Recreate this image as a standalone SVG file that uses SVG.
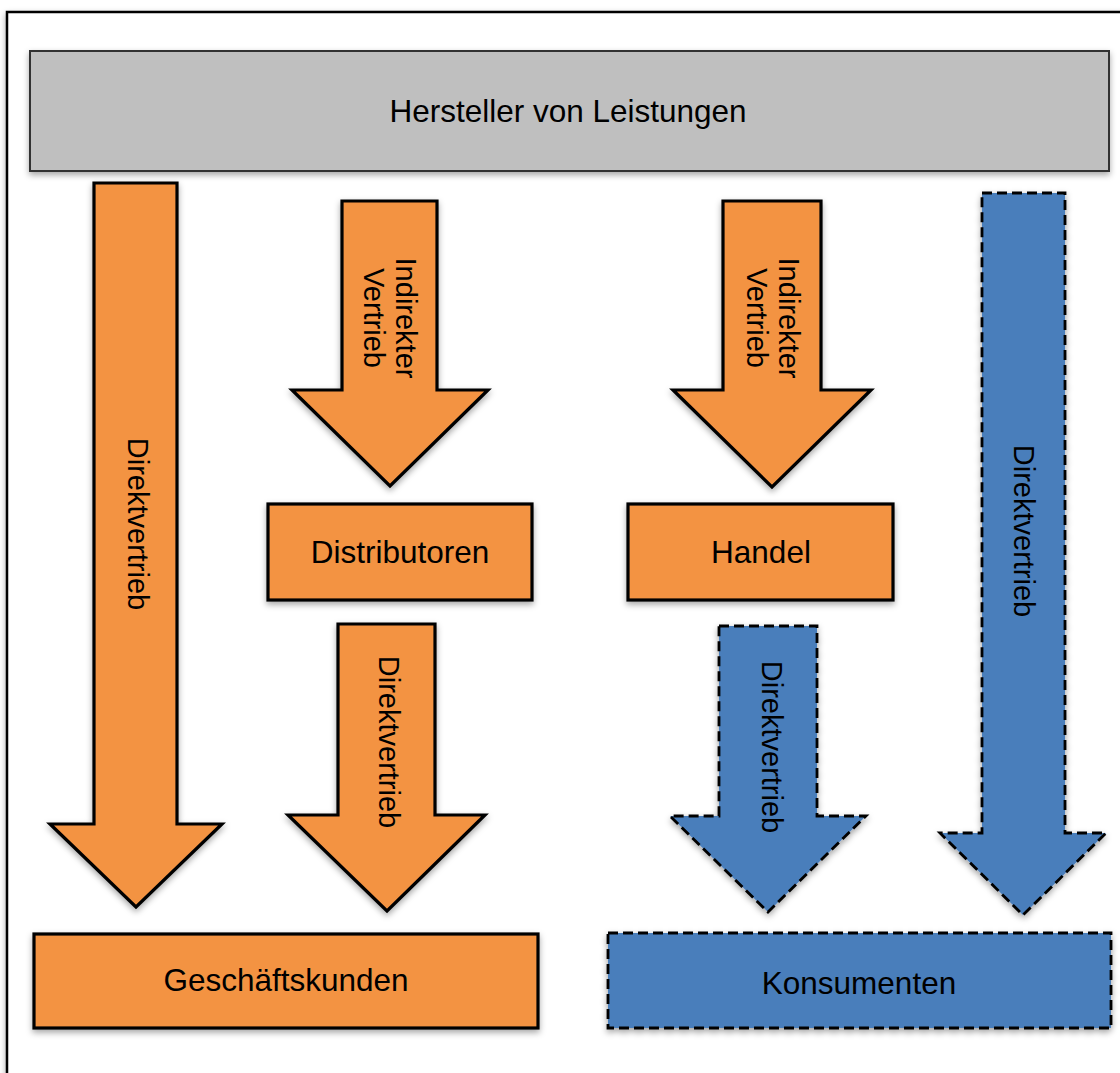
<svg xmlns="http://www.w3.org/2000/svg" width="1120" height="1073" viewBox="0 0 1120 1073">
<defs>
<filter id="sh" x="-20%" y="-20%" width="140%" height="140%">
<feDropShadow dx="0" dy="3" stdDeviation="3" flood-color="#000" flood-opacity="0.35"/>
</filter>
<style>
.org{fill:#f39343;stroke:#000;stroke-width:3.2;stroke-linejoin:miter;filter:url(#sh)}
.blu{fill:#4a7ebb;stroke:#000;stroke-width:2.8;stroke-dasharray:10 5;filter:url(#sh)}
.gry{fill:#bfbfbf;stroke:#333;stroke-width:2;filter:url(#sh)}
.t{font-family:"Liberation Sans",Arial,sans-serif;font-size:31.5px;fill:#000;text-anchor:middle}
.v{font-family:"Liberation Sans",Arial,sans-serif;font-size:29px;fill:#000;text-anchor:middle}
</style>
</defs>
<rect x="0" y="0" width="1120" height="1073" fill="#fff"/>
<rect x="7" y="12" width="1300" height="1300" fill="#fff" stroke="#000" stroke-width="2.5" filter="url(#sh)"/>

<g id="hersteller">
<rect class="gry" x="30" y="51" width="1079" height="120"/>
<text class="t" x="568" y="122">Hersteller von Leistungen</text>
</g>

<g id="distributoren">
<rect class="org" x="268" y="504" width="264" height="96"/>
<text class="t" x="400" y="563">Distributoren</text>
</g>

<g id="handel">
<rect class="org" x="628" y="504" width="265" height="96"/>
<text class="t" x="761" y="563">Handel</text>
</g>

<g id="geschaeftskunden">
<rect class="org" x="34" y="934" width="504" height="94"/>
<text class="t" x="286" y="991">Geschäftskunden</text>
</g>

<g id="konsumenten">
<rect class="blu" x="608" y="933" width="503" height="95"/>
<text class="t" x="859" y="994">Konsumenten</text>
</g>

<g id="connectors">
<g id="arrow-direkt-gk">
<path class="org" d="M94,183 H177 V824 H222 L136,907 L50,824 H94 Z"/>
<text class="v" transform="translate(138,524) rotate(90)" y="10">Direktvertrieb</text>
</g>
<g id="arrow-indirekt-distributoren">
<path class="org" d="M342,201 H437 V390 H488 L390,486 L292,390 H342 Z"/>
<text class="v" transform="translate(390,318) rotate(90)"><tspan x="0" y="-6">Indirekter</tspan><tspan x="0" y="26">Vertrieb</tspan></text>
</g>
<g id="arrow-direkt-distributoren-gk">
<path class="org" d="M338,624 H435 V815 H485 L387,911 L288,815 H338 Z"/>
<text class="v" transform="translate(389,742) rotate(90)" y="10">Direktvertrieb</text>
</g>
<g id="arrow-indirekt-handel">
<path class="org" d="M723,201 H821 V390 H871 L772,487 L673,390 H723 Z"/>
<text class="v" transform="translate(773,318) rotate(90)"><tspan x="0" y="-6">Indirekter</tspan><tspan x="0" y="26">Vertrieb</tspan></text>
</g>
<g id="arrow-direkt-handel-konsumenten">
<path class="blu" d="M719,626 H817 V816 H866 L768,912 L670,816 H719 Z"/>
<text class="v" transform="translate(772,747) rotate(90)" y="10">Direktvertrieb</text>
</g>
<g id="arrow-direkt-konsumenten">
<path class="blu" d="M982,193 H1065 V833 H1106 L1023,915 L940,833 H982 Z"/>
<text class="v" transform="translate(1024,531) rotate(90)" y="10">Direktvertrieb</text>
</g>
</g>
</svg>
